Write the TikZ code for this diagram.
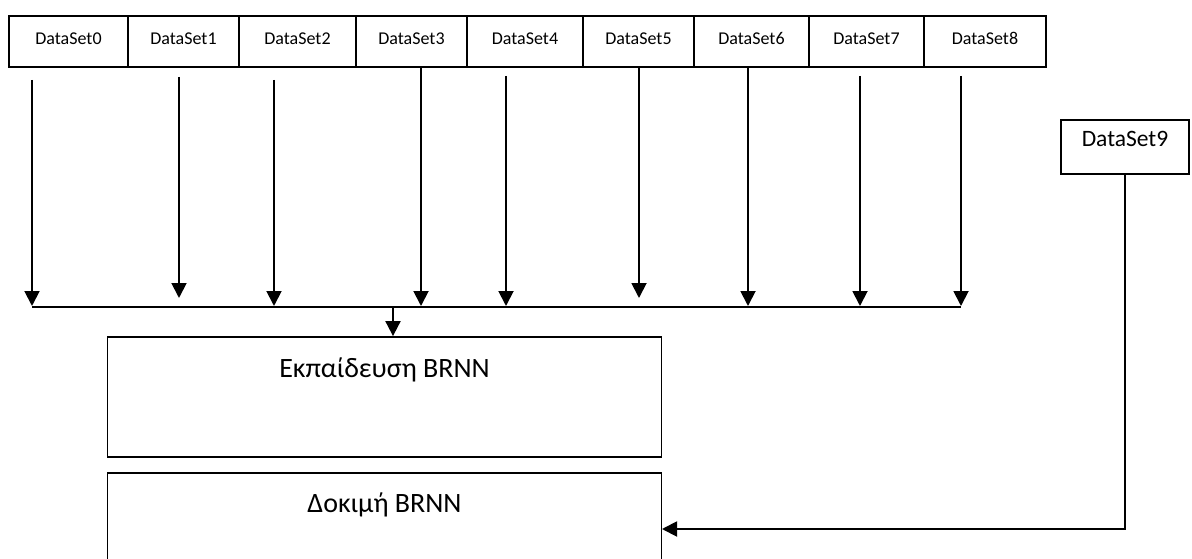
\documentclass[tikz,border=0pt]{standalone}
\usepackage{fontspec}
\setmainfont{Carlito}
\usetikzlibrary{arrows.meta}
\begin{document}
\begin{tikzpicture}[x=1pt,y=-1pt,
  line width=1.8pt,
  cell/.style={draw,inner sep=0pt,minimum height=51pt,text height=12pt,text depth=5pt,font=\fontsize{18}{20}\selectfont},
  bigbox/.style={draw,inner sep=0pt,minimum width=554pt},
  biglbl/.style={anchor=base,inner sep=0pt,font=\fontsize{28}{32}\selectfont},
  arr/.style={-{Triangle[length=15pt,width=15pt]},line width=1.9pt}]
\useasboundingbox (0,0) rectangle (1192,559);
\clip (0,0) rectangle (1192,559);
% top row of cells
\node[cell,minimum width=119pt] (d0) at (68.5,41.5) {DataSet0};
\node[cell,minimum width=111pt] (d1) at (183.5,41.5) {DataSet1};
\node[cell,minimum width=117pt] (d2) at (297.5,41.5) {DataSet2};
\node[cell,minimum width=111pt] (d3) at (411.5,41.5) {DataSet3};
\node[cell,minimum width=116pt] (d4) at (525,41.5) {DataSet4};
\node[cell,minimum width=111pt] (d5) at (638.5,41.5) {DataSet5};
\node[cell,minimum width=115pt] (d6) at (751.5,41.5) {DataSet6};
\node[cell,minimum width=115pt] (d7) at (866.5,41.5) {DataSet7};
\node[cell,minimum width=122pt] (d8) at (985,41.5) {DataSet8};
% DataSet9
\node[draw,inner sep=0pt,minimum width=128pt,minimum height=54pt,text height=10pt,text depth=10pt,font=\fontsize{23.5}{26}\selectfont] (d9) at (1125,147) {DataSet9};
% big boxes
\node[bigbox,minimum height=120pt] (train) at (384.5,397) {};
\node[biglbl] (trainlbl) at (384.5,377) {Εκπαίδευση BRNN};
\node[bigbox,minimum height=120pt] (test) at (384.5,533) {};
\node[biglbl] (testlbl) at (384.5,512) {Δοκιμή BRNN};
% arrow start / end coordinates
\coordinate (s0) at (32,80);   \coordinate (e0) at (32,306);
\coordinate (s1) at (179,77);  \coordinate (e1) at (179,298);
\coordinate (s2) at (274,80);  \coordinate (e2) at (274,306);
\coordinate (s3) at (421,67);  \coordinate (e3) at (421,306);
\coordinate (s4) at (506,76);  \coordinate (e4) at (506,306);
\coordinate (s5) at (639,67);  \coordinate (e5) at (639,298);
\coordinate (s6) at (748,67);  \coordinate (e6) at (748,306);
\coordinate (s7) at (860,76);  \coordinate (e7) at (860,306);
\coordinate (s8) at (961,76);  \coordinate (e8) at (961,306);
\foreach \i in {0,...,8} {\draw[arr] (s\i) -- (e\i);}
% bus
\coordinate (bl) at (32,307);
\coordinate (br) at (961,307);
\coordinate (bm) at (393,307);
\draw (bl) -- (br);
\draw[arr] (bm) -- (bm |- train.north);
% DataSet9 to test
\coordinate (tin) at (662,529);
\draw[arr] (d9.south) |- (tin);
\end{tikzpicture}
\end{document}
